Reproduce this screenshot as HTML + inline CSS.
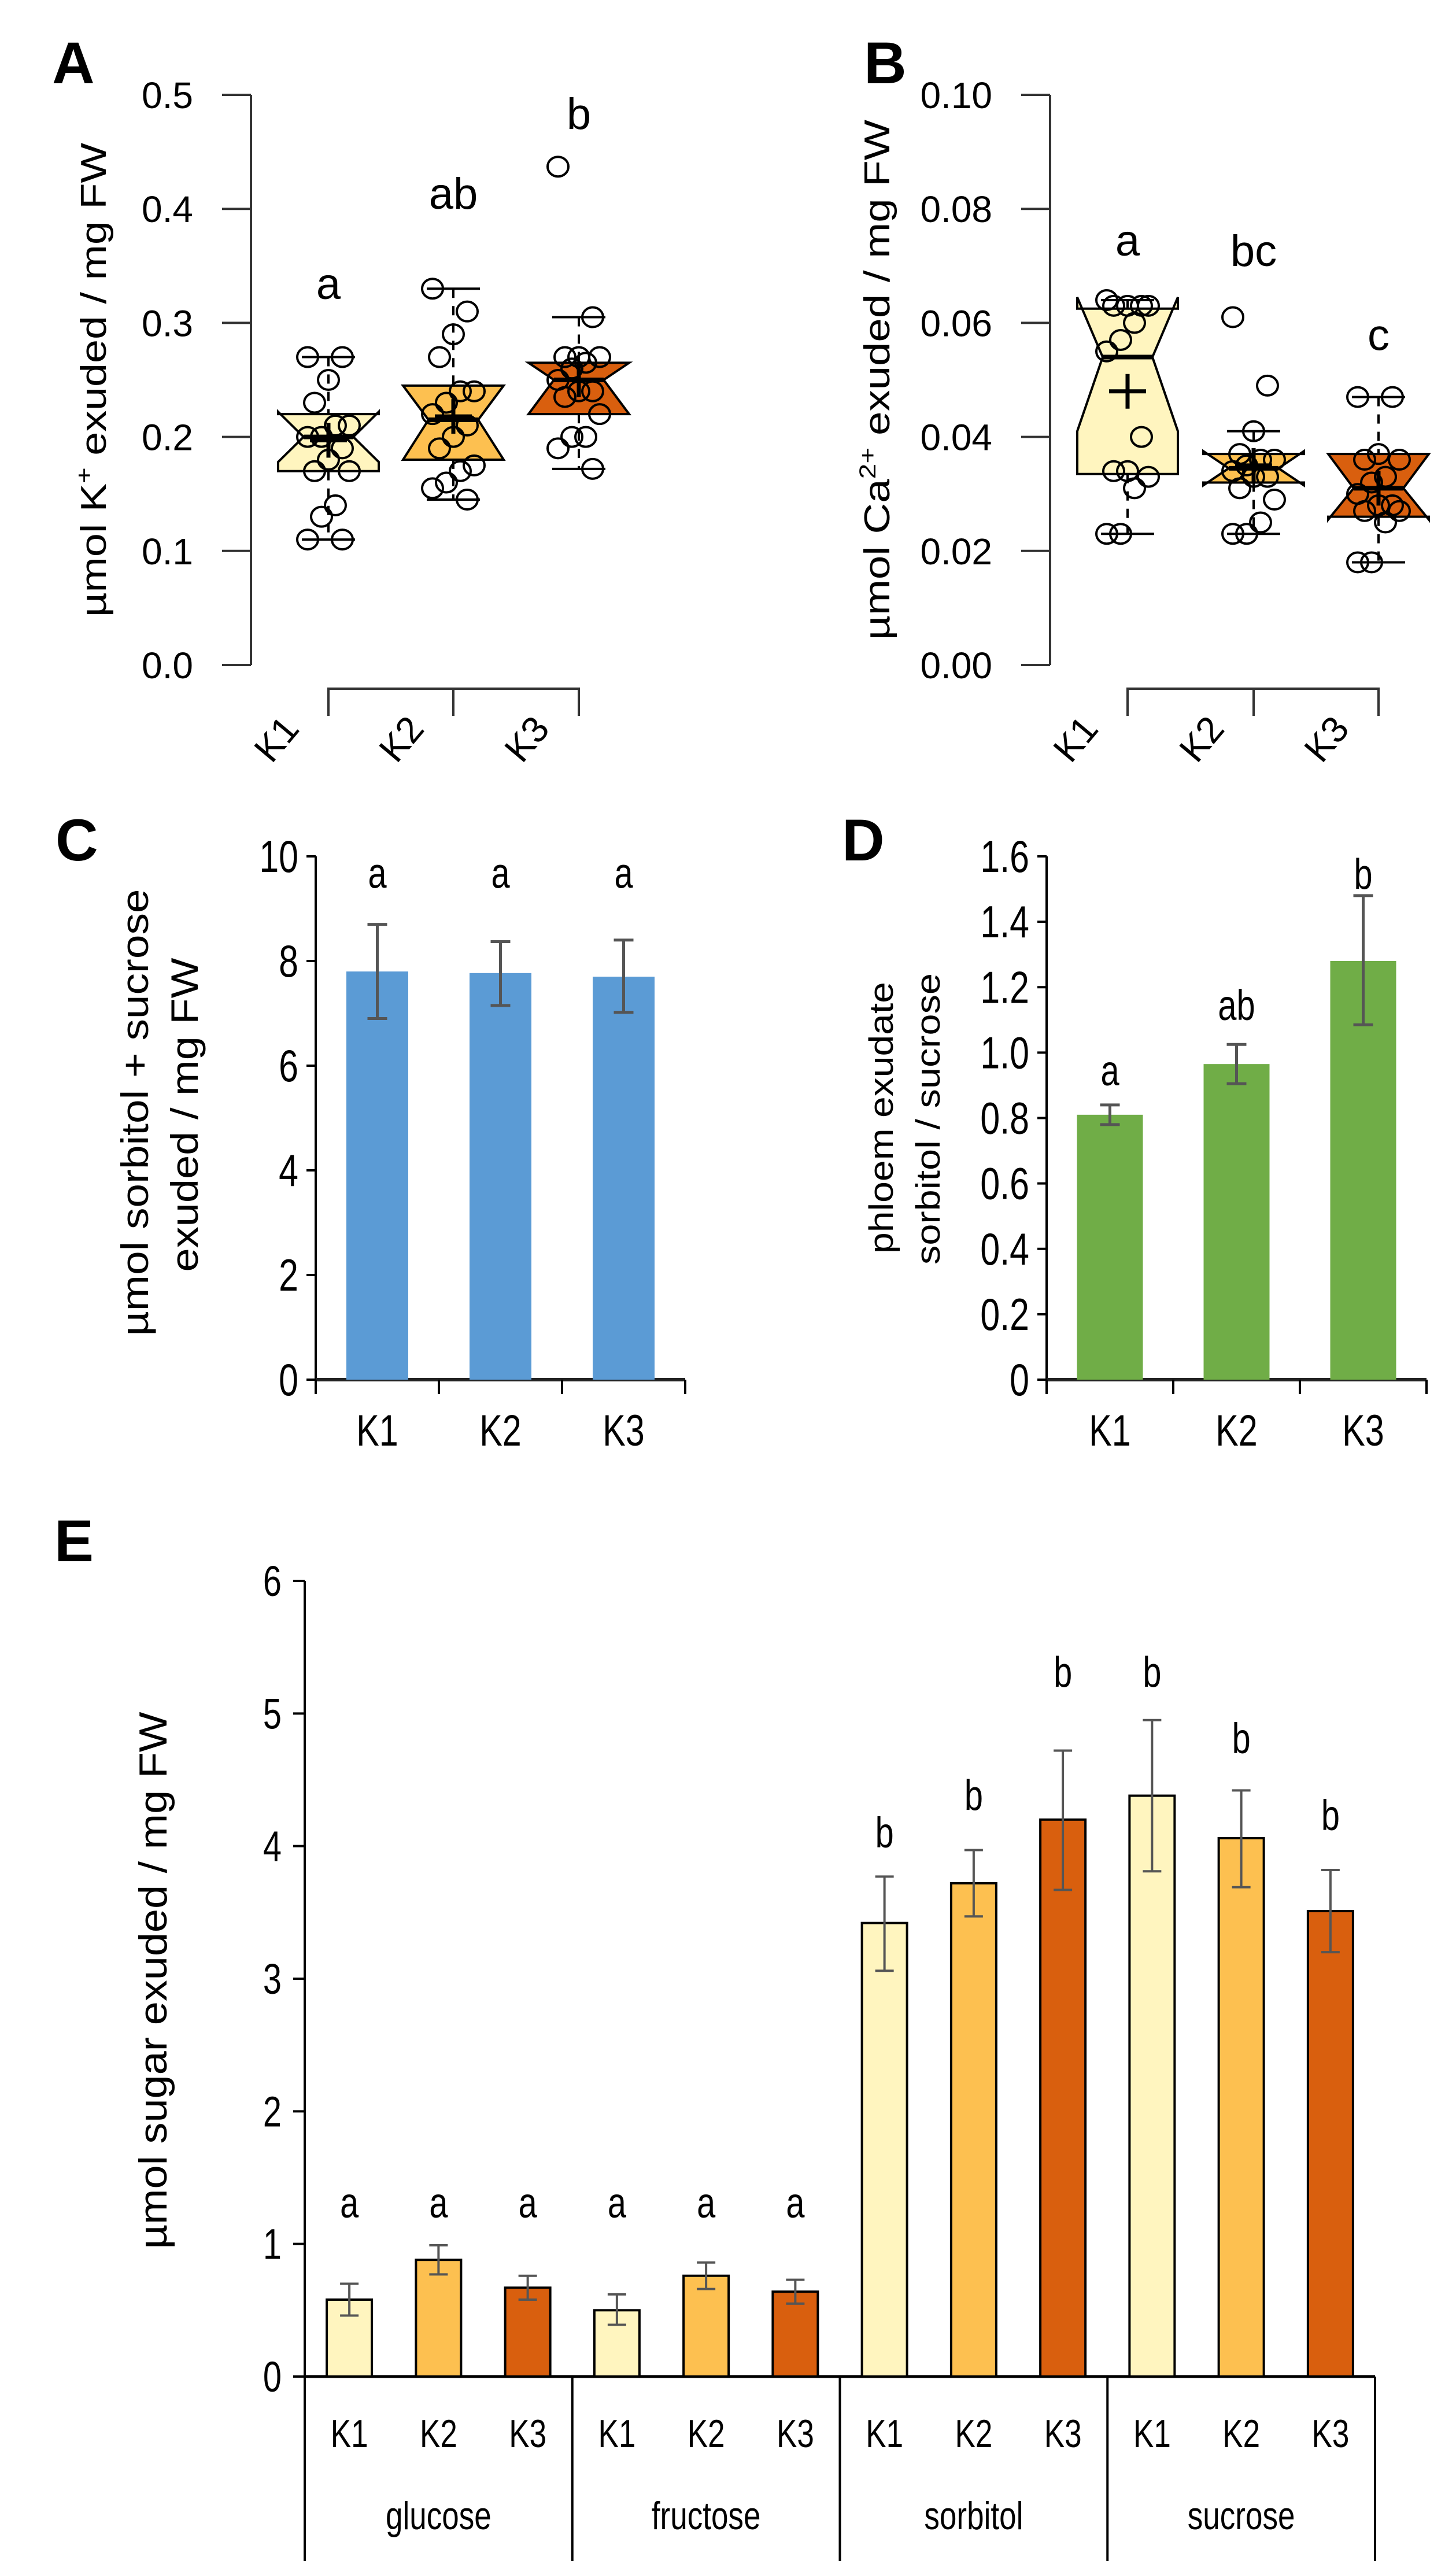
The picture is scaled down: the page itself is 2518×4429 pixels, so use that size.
<!DOCTYPE html>
<html><head><meta charset="utf-8"><style>
html,body{margin:0;padding:0;background:#fff}
svg{display:block}
text{font-family:"Liberation Sans",sans-serif;fill:#000}
</style></head><body>
<svg id="fig" width="2518" height="4429" viewBox="0 0 2518 4429" xmlns="http://www.w3.org/2000/svg">
<defs><clipPath id="clipB"><rect x="1816" y="0" width="658" height="1300"/></clipPath></defs>
<text x="90" y="144" font-size="102" font-weight="bold">A</text>
<text x="1494" y="144" font-size="102" font-weight="bold">B</text>
<text x="96" y="1488" font-size="102" font-weight="bold">C</text>
<text x="1456" y="1488" font-size="102" font-weight="bold">D</text>
<text x="94" y="2700" font-size="102" font-weight="bold">E</text>
<g id="gA"></g>
<g id="gB"></g>
<g id="gC"></g>
<g id="gD"></g>
<g id="gE"></g>
</svg>
<script>
// ---- data ----
const groups = ["K1","K2","K3"];
// Panel A (K+)
const aQ1 = [0.17, 0.18, 0.22];
const aQ3 = [0.22, 0.245, 0.265];
const aMed = [0.20, 0.215, 0.25];
const aNotchLo = [0.178, 0.18, 0.22];
const aNotchHi = [0.222, 0.245, 0.265];
const aWhLo = [0.11, 0.145, 0.172];
const aWhHi = [0.27, 0.33, 0.305];
const aMean = [0.197, 0.218, 0.25];
const aPtsK1 = [0.27,0.27,0.25,0.23,0.21,0.21,0.20,0.20,0.19,0.18,0.17,0.17,0.14,0.13,0.11,0.11];
const aPtsK2 = [0.33,0.31,0.29,0.27,0.24,0.24,0.23,0.22,0.21,0.20,0.19,0.175,0.17,0.16,0.155,0.145];
const aPtsK3 = [0.437,0.305,0.27,0.27,0.27,0.265,0.26,0.25,0.24,0.24,0.235,0.22,0.2,0.2,0.19,0.172];
const aLetters = ["a","ab","b"];
const aLetterVal = [0.321, 0.40, 0.47];
const aTicks = ["0.0","0.1","0.2","0.3","0.4","0.5"];
// Panel B (Ca2+)
const bQ1 = [0.0335, 0.032, 0.026];
const bQ3 = [0.0625, 0.037, 0.037];
const bMed = [0.054, 0.0345, 0.031];
const bNotchLo = [0.041, 0.0315, 0.0255];
const bNotchHi = [0.0645, 0.0375, 0.037];
const bWhLo = [0.023, 0.023, 0.018];
const bWhHi = [0.064, 0.041, 0.047];
const bMean = [0.048, 0.035, 0.031];
const bPtsK1 = [0.064,0.063,0.063,0.063,0.063,0.060,0.057,0.055,0.040,0.034,0.034,0.033,0.031,0.023,0.023];
const bPtsK2 = [0.061,0.049,0.041,0.037,0.036,0.036,0.035,0.034,0.033,0.033,0.031,0.029,0.025,0.023,0.023];
const bPtsK3 = [0.047,0.047,0.037,0.036,0.036,0.033,0.032,0.030,0.028,0.028,0.027,0.027,0.025,0.018,0.018];
const bLetters = ["a","bc","c"];
const bLetterVal = [0.0718, 0.070, 0.0552];
const bTicks = ["0.00","0.02","0.04","0.06","0.08","0.10"];
// Panel C
const cVals = [7.8, 7.77, 7.7];
const cLo = [6.9, 7.15, 7.02];
const cHi = [8.7, 8.37, 8.4];
const cLetters = ["a","a","a"];
const cTicks = [0,2,4,6,8,10];
// Panel D
const dVals = [0.81, 0.965, 1.28];
const dLo = [0.78, 0.905, 1.085];
const dHi = [0.84, 1.025, 1.48];
const dLetters = ["a","ab","b"];
const dLetterVal = [0.9, 1.1, 1.5];
const dTicks = ["0","0.2","0.4","0.6","0.8","1.0","1.2","1.4","1.6"];
// Panel E
const sugars = ["glucose","fructose","sorbitol","sucrose"];
const eVals = [0.58,0.88,0.67, 0.50,0.76,0.64, 3.42,3.72,4.20, 4.38,4.06,3.51];
const eLo   = [0.46,0.77,0.58, 0.39,0.66,0.55, 3.06,3.47,3.67, 3.81,3.69,3.20];
const eHi   = [0.70,0.99,0.76, 0.62,0.86,0.73, 3.77,3.97,4.72, 4.95,4.42,3.82];
const eLetters = ["a","a","a","a","a","a","b","b","b","b","b","b"];
const eLetterVal = [1.2,1.2,1.2,1.2,1.2,1.2, 3.99,4.27,5.2,5.2,4.7,4.12];
const eTicks = [0,1,2,3,4,5,6];

const NS = "http://www.w3.org/2000/svg";
function mk(parent, tag, attrs, txt){
  const e = document.createElementNS(NS, tag);
  for (const k in attrs) e.setAttribute(k, attrs[k]);
  if (txt !== undefined) e.textContent = txt;
  parent.appendChild(e);
  return e;
}
const colK = ["#FFF5BF","#FDC050","#D95F0E"];

// ---------- Box panels ----------
function boxPanel(g, o){
  const y = v => o.y0 - (v - o.vmin) / (o.vmax - o.vmin) * (o.y0 - o.y1);
  let el;
  el = mk(g,"line",{x1:o.ax,y1:o.y1,x2:o.ax,y2:o.y0,stroke:"#333","stroke-width":4});
   
  o.ticks.forEach((t,i)=>{
    const v = parseFloat(t);
    const yy = y(v);
    el = mk(g,"line",{x1:o.ax-50,y1:yy,x2:o.ax,y2:yy,stroke:"#333","stroke-width":4});
     
    el = mk(g,"text",{x:o.ax-100,y:yy+23,"font-size":64,"text-anchor":"end",fill:"#222"},t);
     
  });
  el = mk(g,"text",{transform:`translate(${o.lx},${(o.y0+o.y1)/2}) rotate(-90)`,"font-size":62,"text-anchor":"middle",textLength:o.llen,lengthAdjust:"spacingAndGlyphs"});
  el.innerHTML = o.label;
   
  el = mk(g,"path",{d:`M${o.xs[0]},1238 V1191 H${o.xs[2]} V1238 M${o.xs[1]},1191 V1238`,fill:"none",stroke:"#333","stroke-width":4});
   
  const inner = mk(g,"g",o.clip?{"clip-path":"url(#clipB)"}:{});
  groups.forEach((k,i)=>{
    const cx = o.xs[i], hw = 87, nw = 44;
    const L = cx-hw, R = cx+hw;
    el = mk(inner,"line",{x1:cx,y1:y(o.whHi[i]),x2:cx,y2:y(o.q3[i]),stroke:"#000","stroke-width":4,"stroke-dasharray":"16 14"});
     
    el = mk(inner,"line",{x1:cx,y1:y(o.q1[i]),x2:cx,y2:y(o.whLo[i]),stroke:"#000","stroke-width":4,"stroke-dasharray":"16 14"});
     
    el = mk(inner,"line",{x1:cx-46,y1:y(o.whHi[i]),x2:cx+46,y2:y(o.whHi[i]),stroke:"#000","stroke-width":4});
     
    el = mk(inner,"line",{x1:cx-46,y1:y(o.whLo[i]),x2:cx+46,y2:y(o.whLo[i]),stroke:"#000","stroke-width":4});
     
    const d = `M${L},${y(o.q1[i])} L${L},${y(o.nlo[i])} L${L+nw},${y(o.med[i])} L${L},${y(o.nhi[i])} L${L},${y(o.q3[i])} L${R},${y(o.q3[i])} L${R},${y(o.nhi[i])} L${R-nw},${y(o.med[i])} L${R},${y(o.nlo[i])} L${R},${y(o.q1[i])} Z`;
    el = mk(inner,"path",{d:d,fill:colK[i],stroke:"#000","stroke-width":4,"stroke-linejoin":"miter"});
     
    el = mk(inner,"line",{x1:L+nw,y1:y(o.med[i]),x2:R-nw,y2:y(o.med[i]),stroke:"#000","stroke-width":8});
     
    o.pts[i].forEach((v,j)=>{
      const off = (((j*5)%7)-3)*12;
      el = mk(inner,"ellipse",{cx:cx+off,cy:y(v),rx:18,ry:17,fill:"none",stroke:"#000","stroke-width":4});
       
    });
    el = mk(inner,"path",{d:`M${cx-32},${y(o.mean[i])} H${cx+32} M${cx},${y(o.mean[i])-30} V${y(o.mean[i])+30}`,stroke:"#000","stroke-width":7});
     
    el = mk(g,"text",{x:cx,y:y(o.letterVal[i]),"font-size":76,"text-anchor":"middle"},o.letters[i]);
     
    el = mk(g,"text",{transform:`translate(${cx-90},1278) rotate(-50)`,"font-size":64,"text-anchor":"middle","dominant-baseline":"central",fill:"#222"},k);
     
  });
}
boxPanel(document.getElementById("gA"),{ax:434,y0:1150,y1:164,vmin:0,vmax:0.5,ticks:aTicks,xs:[568,784,1001],
  q1:aQ1,q3:aQ3,med:aMed,nlo:aNotchLo,nhi:aNotchHi,whLo:aWhLo,whHi:aWhHi,mean:aMean,pts:[aPtsK1,aPtsK2,aPtsK3],
  letters:aLetters,letterVal:aLetterVal,lx:183,llen:820,label:'µmol K<tspan dy="-24" font-size="40">+</tspan><tspan dy="24"> exuded / mg FW</tspan>'});
boxPanel(document.getElementById("gB"),{ax:1816,y0:1150,y1:164,vmin:0,vmax:0.1,ticks:bTicks,xs:[1950,2168,2384],clip:true,
  q1:bQ1,q3:bQ3,med:bMed,nlo:bNotchLo,nhi:bNotchHi,whLo:bWhLo,whHi:bWhHi,mean:bMean,pts:[bPtsK1,bPtsK2,bPtsK3],
  letters:bLetters,letterVal:bLetterVal,lx:1538,llen:900,label:'µmol Ca<tspan dy="-24" font-size="40">2+</tspan><tspan dy="24"> exuded / mg FW</tspan>'});

// narrow text helper (scaled horizontally)
function narrow(g, x, yb, size, anchor, str){
  const t = mk(g,"text",{transform:`translate(${x},${yb}) scale(0.78,1)`,x:0,y:0,"font-size":size,"text-anchor":anchor},str);
  return t;
}

// ---------- Bar panels C & D ----------
function barPanel(g,o){
  const y = v => o.y0 - v/o.vmax*(o.y0-o.y1);
  let el;
  el = mk(g,"line",{x1:o.ax,y1:o.y1,x2:o.ax,y2:o.y0+25,stroke:"#000","stroke-width":4});
   
  o.ticks.forEach(t=>{
    const yy = y(parseFloat(t));
    el = mk(g,"line",{x1:o.ax-16,y1:yy,x2:o.ax,y2:yy,stroke:"#000","stroke-width":4});
     
    el = narrow(g, o.ax-30, yy+27, 78, "end", String(t));
     
  });
  const step = (o.axEnd-o.ax)/3;
  el = mk(g,"line",{x1:o.ax,y1:o.y0,x2:o.axEnd,y2:o.y0,stroke:"#222","stroke-width":6});
   
  for(let i=0;i<=3;i++){
    el = mk(g,"line",{x1:o.ax+i*step,y1:o.y0,x2:o.ax+i*step,y2:o.y0+25,stroke:"#000","stroke-width":4});
     
  }
  groups.forEach((k,i)=>{
    const cx = o.ax + (i+0.5)*step;
    el = mk(g,"rect",{x:cx-o.bw/2,y:y(o.vals[i]),width:o.bw,height:o.y0-y(o.vals[i]),fill:o.color});
     
    el = mk(g,"path",{d:`M${cx},${y(o.hi[i])} V${y(o.lo[i])} M${cx-17},${y(o.hi[i])} H${cx+17} M${cx-17},${y(o.lo[i])} H${cx+17}`,stroke:"#555","stroke-width":5,fill:"none"});
     
    el = narrow(g, cx, y(o.letterVal[i]), 74, "middle", o.letters[i]);
     
    el = narrow(g, cx, 2500, 76, "middle", k);
     
  });
  o.labels.forEach((t,j)=>{
    el = mk(g,"text",{transform:`translate(${o.lx[j]},${o.lcy[j]}) rotate(-90)`,"font-size":o.lfs,"text-anchor":"middle",textLength:o.llen[j],lengthAdjust:"spacingAndGlyphs"},t);
     
  });
}
barPanel(document.getElementById("gC"),{ax:546,axEnd:1185,y0:2386,y1:1481,vmax:10,ticks:cTicks,vals:cVals,lo:cLo,hi:cHi,
  letters:cLetters,letterVal:[9.4,9.4,9.4],bw:107,color:"#5B9BD5",
  labels:["µmol sorbitol + sucrose","exuded / mg FW"],lx:[256,342],lcy:[1924,1928],llen:[773,543],lfs:66});
barPanel(document.getElementById("gD"),{ax:1810,axEnd:2467,y0:2386,y1:1481,vmax:1.6,ticks:dTicks,vals:dVals,lo:dLo,hi:dHi,
  letters:dLetters,letterVal:dLetterVal,bw:114,color:"#70AD47",
  labels:["phloem exudate","sorbitol / sucrose"],lx:[1544,1625],lcy:[1933,1935],llen:[470,504],lfs:58});

// ---------- Panel E ----------
(function(){
  const g = document.getElementById("gE");
  const ax=527, axEnd=2378, y0=4110, y1=2734, vmax=6;
  const y = v => y0 - v/vmax*(y0-y1);
  let el;
  el = mk(g,"line",{x1:ax,y1:y1,x2:ax,y2:4429,stroke:"#000","stroke-width":4});
   
  eTicks.forEach(t=>{
    const yy=y(t);
    el = mk(g,"line",{x1:ax-20,y1:yy,x2:ax,y2:yy,stroke:"#000","stroke-width":4});
     
    el = narrow(g, ax-40, yy+26, 74, "end", String(t));
     
  });
  el = mk(g,"line",{x1:ax,y1:y0,x2:axEnd,y2:y0,stroke:"#000","stroke-width":5});
   
  const gw = (axEnd-ax)/sugars.length, bs = gw/3;
  sugars.forEach((s,si)=>{
    el = mk(g,"line",{x1:ax+(si+1)*gw,y1:y0,x2:ax+(si+1)*gw,y2:4429,stroke:"#000","stroke-width":4});
     
    el = narrow(g, ax+(si+0.5)*gw, 4374, 68, "middle", s);
     
    groups.forEach((k,i)=>{
      const idx = si*3+i;
      const cx = ax + si*gw + (i+0.5)*bs;
      el = mk(g,"rect",{x:cx-39,y:y(eVals[idx]),width:78,height:y0-y(eVals[idx]),fill:colK[i],stroke:"#000","stroke-width":4});
       
      el = mk(g,"path",{d:`M${cx},${y(eHi[idx])} V${y(eLo[idx])} M${cx-16},${y(eHi[idx])} H${cx+16} M${cx-16},${y(eLo[idx])} H${cx+16}`,stroke:"#555","stroke-width":4,fill:"none"});
       
      el = narrow(g, cx, y(eLetterVal[idx]), 74, "middle", eLetters[idx]);
       
      el = narrow(g, cx, 4232, 68, "middle", k);
       
    });
  });
  el = mk(g,"text",{transform:`translate(288,3425) rotate(-90)`,"font-size":68,"text-anchor":"middle",textLength:929,lengthAdjust:"spacingAndGlyphs"},"µmol sugar exuded / mg FW");
   
})();
</script>
</body></html>
